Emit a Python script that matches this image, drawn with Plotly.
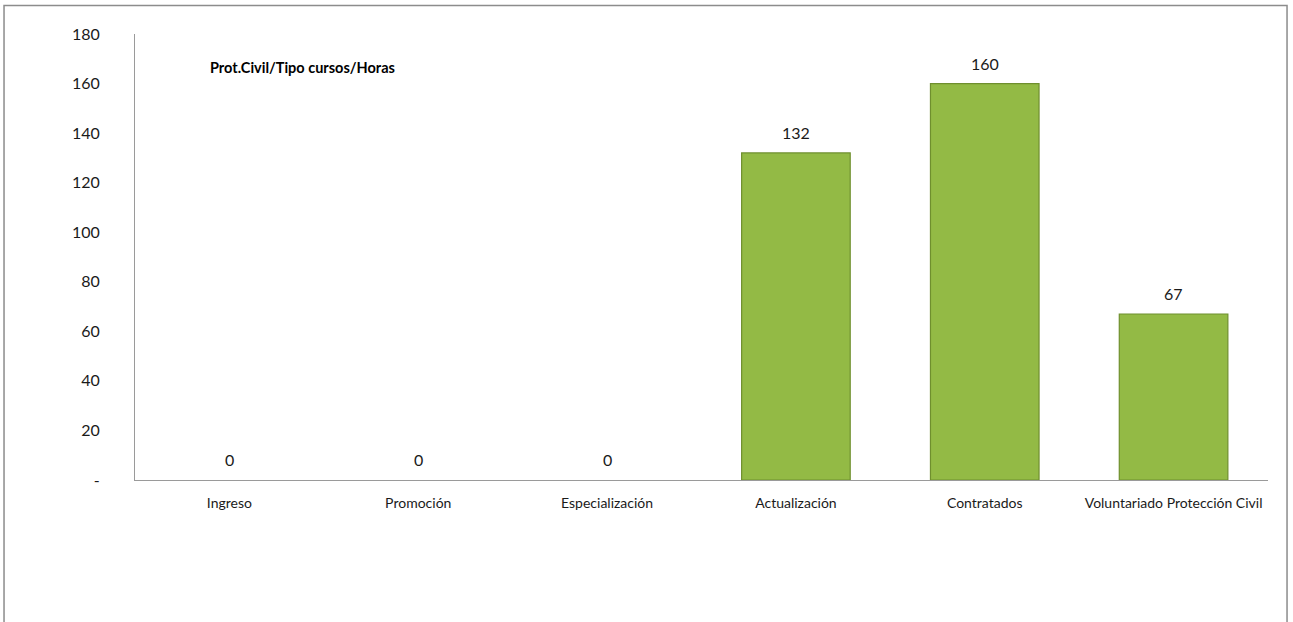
import plotly.graph_objects as go

categories = ["Ingreso", "Promoción", "Especialización", "Actualización",
              "Contratados", "Voluntariado Protección Civil"]
hours = [0, 0, 0, 132, 160, 67]
y_ticks = [0, 20, 40, 60, 80, 100, 120, 140, 160, 180]
y_tick_text = ["-", "20", "40", "60", "80", "100", "120", "140", "160", "180"]
title_text = "Prot.Civil/Tipo cursos/Horas"

FONT = "Lato, 'Open Sans', sans-serif"

fig = go.Figure()
fig.add_trace(go.Bar(
    x=categories, y=hours,
    marker=dict(color="#93ba45",
                line=dict(color="#6f8f2e",
                          width=[0 if v == 0 else 1.2 for v in hours])),
    width=0.575,
    hoverinfo="x+y",
))

annotations = [dict(
    x=c, y=v, xref="x", yref="y", text=str(v),
    showarrow=False, yanchor="bottom", yshift=9,
    font=dict(family=FONT, size=16, color="#1a1a1a"),
) for c, v in zip(categories, hours)]

annotations.append(dict(
    text="<b>" + title_text + "</b>", xref="paper", yref="paper",
    x=0.0644, y=0.925, xanchor="left", yanchor="middle",
    showarrow=False, font=dict(family=FONT, size=14.5, color="#000000"),
))

fig.update_layout(
    width=1293, height=622,
    margin=dict(l=135, r=25, t=34, b=142),
    paper_bgcolor="white", plot_bgcolor="white",
    showlegend=False,
    font=dict(family=FONT, color="#1a1a1a"),
    xaxis=dict(
        showline=True, linecolor="#9a9a9a", linewidth=1,
        showgrid=False, ticks="",
        tickfont=dict(family=FONT, size=14, color="#1a1a1a"),
        ticklabelstandoff=10,
    ),
    yaxis=dict(
        range=[0, 180], tickvals=y_ticks, ticktext=y_tick_text,
        showline=True, linecolor="#9a9a9a", linewidth=1,
        showgrid=False, zeroline=False, ticks="",
        tickfont=dict(family=FONT, size=16, color="#1a1a1a"),
        ticklabelstandoff=31,
    ),
    shapes=[dict(
        type="rect", xref="paper", yref="paper",
        x0=-0.1156, x1=1.0168, y0=-0.35, y1=1.064,
        line=dict(color="#8c8c8c", width=1.5), fillcolor="rgba(0,0,0,0)",
        layer="below",
    )],
    annotations=annotations,
)

fig.write_html("out.html", config={"displayModeBar": False},
               post_script="document.body.style.margin='0';document.body.style.overflow='hidden';")
